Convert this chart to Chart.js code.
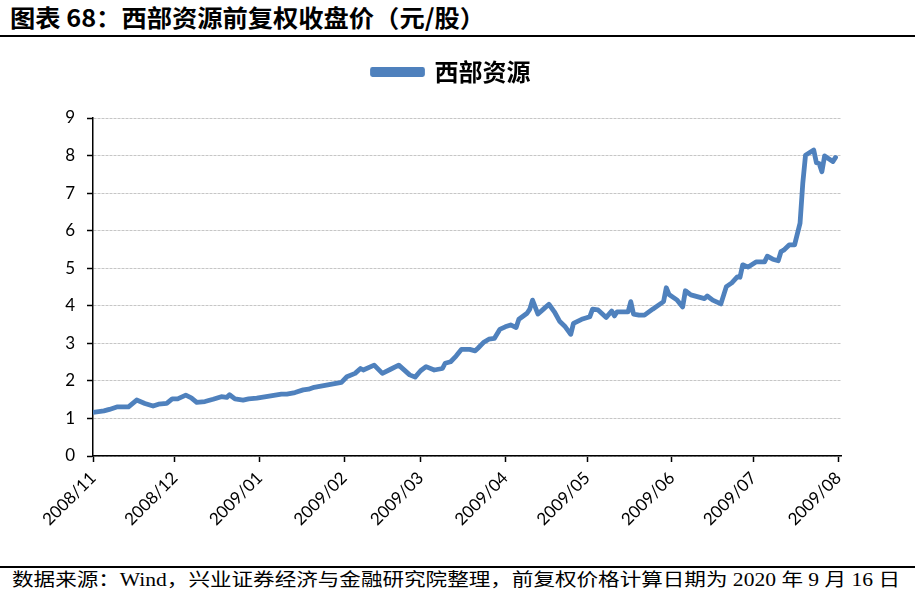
<!DOCTYPE html>
<html><head><meta charset="utf-8">
<script src="https://cdn.jsdelivr.net/npm/chart.js@4/dist/chart.umd.min.js"></script>
<style>
html,body{margin:0;padding:0;background:#fff;width:915px;height:597px;overflow:hidden;}
#title{position:absolute;left:10px;top:2px;font-family:"Noto Sans CJK SC";font-weight:bold;font-size:24px;line-height:30px;white-space:nowrap;transform-origin:0 0;color:#000;}
#tline{position:absolute;left:0;top:35px;width:915px;height:2px;background:#000;}
#wrap{position:absolute;left:0;top:40px;width:915px;height:525px;}
#fline{position:absolute;left:0;top:566px;width:915px;height:1.5px;background:#000;}
#footer{position:absolute;left:12px;top:569px;font-family:"Liberation Serif","Noto Sans CJK SC";font-size:18px;line-height:22px;white-space:nowrap;transform-origin:0 0;color:#000;}
</style></head><body>
<div id="title">图表 68：西部资源前复权收盘价（元/股）</div>
<div id="tline"></div>
<div id="wrap"><canvas id="c" width="915" height="525"></canvas></div>
<div id="fline"></div>
<div id="footer">数据来源：Wind，兴业证券经济与金融研究院整理，前复权价格计算日期为 2020 年 9 月 16 日</div>
<script>
const seriesName = '西部资源';
const monthLabels = ['2008/11','2008/12','2009/01','2009/02','2009/03','2009/04','2009/05','2009/06','2009/07','2009/08'];
const dates = [
'2008-11-01','2008-11-05','2008-11-07','2008-11-10','2008-11-14','2008-11-17','2008-11-20','2008-11-23','2008-11-25','2008-11-28',
'2008-11-30','2008-12-02','2008-12-05','2008-12-07','2008-12-09','2008-12-12','2008-12-15','2008-12-18','2008-12-20','2008-12-21',
'2008-12-23','2008-12-26','2008-12-28','2008-12-31','2009-01-04','2009-01-09','2009-01-11','2009-01-14','2009-01-17','2009-01-19',
'2009-01-21','2009-01-27','2009-01-31','2009-02-02','2009-02-05','2009-02-07','2009-02-08','2009-02-12','2009-02-15','2009-02-18',
'2009-02-21','2009-02-25','2009-02-27','2009-03-01','2009-03-03','2009-03-06','2009-03-09','2009-03-10','2009-03-12','2009-03-14',
'2009-03-16','2009-03-19','2009-03-21','2009-03-22','2009-03-24','2009-03-26','2009-03-28','2009-03-30','2009-04-01','2009-04-03',
'2009-04-05','2009-04-06','2009-04-09','2009-04-10','2009-04-11','2009-04-13','2009-04-15','2009-04-17','2009-04-19','2009-04-21',
'2009-04-23','2009-04-25','2009-04-26','2009-04-29','2009-05-02','2009-05-03','2009-05-05','2009-05-08','2009-05-10','2009-05-11',
'2009-05-12','2009-05-16','2009-05-17','2009-05-18','2009-05-20','2009-05-22','2009-05-25','2009-05-29','2009-05-30','2009-05-31',
'2009-06-03','2009-06-05','2009-06-06','2009-06-08','2009-06-11','2009-06-13','2009-06-14','2009-06-16','2009-06-19','2009-06-21',
'2009-06-23','2009-06-25','2009-06-26','2009-06-27','2009-06-29','2009-07-02','2009-07-05','2009-07-06','2009-07-08','2009-07-10',
'2009-07-11','2009-07-12','2009-07-14','2009-07-16','2009-07-18','2009-07-19','2009-07-20','2009-07-23','2009-07-24','2009-07-25',
'2009-07-26','2009-07-27','2009-07-30','2009-07-31'
];
const prices = [
1.16,1.20,1.24,1.31,1.31,1.49,1.40,1.33,1.38,1.40,
1.52,1.52,1.62,1.55,1.43,1.45,1.51,1.58,1.56,1.63,
1.52,1.49,1.52,1.54,1.59,1.65,1.65,1.69,1.76,1.78,
1.83,1.91,1.96,2.11,2.20,2.33,2.29,2.42,2.20,2.31,
2.42,2.16,2.10,2.27,2.38,2.29,2.33,2.47,2.51,2.66,
2.84,2.84,2.80,2.87,3.02,3.11,3.13,3.37,3.44,3.49,
3.42,3.64,3.80,3.91,4.15,3.78,3.91,4.04,3.84,3.58,
3.44,3.24,3.53,3.64,3.71,3.91,3.89,3.69,3.86,3.73,
3.84,3.84,4.11,3.78,3.75,3.75,3.91,4.11,4.48,4.30,
4.15,3.97,4.40,4.29,4.23,4.19,4.26,4.15,4.05,4.51,
4.61,4.77,4.76,5.09,5.03,5.17,5.17,5.32,5.24,5.20,
5.44,5.48,5.62,5.62,6.20,7.26,8.01,8.15,7.81,7.79,
7.57,7.99,7.84,7.95
];
const yTicks = [0,1,2,3,4,5,6,7,8,9];

// fit title/footer widths
function fitWidth(id, target){
  const el = document.getElementById(id);
  const w = el.getBoundingClientRect().width;
  el.style.transform = 'scaleX(' + (target / w) + ')';
}
fitWidth('title', 475);
fitWidth('footer', 888);

const startUTC = Date.UTC(2008, 10, 1);
function dayOf(s){
  const p = s.split(/[-\/]/).map(Number);
  return Math.round((Date.UTC(p[0], p[1] - 1, p[2] || 1) - startUTC) / 86400000);
}
const points = dates.map((d, i) => ({x: dayOf(d), y: prices[i]}));
const tickDays = monthLabels.map(dayOf);
const lineColor = '#4F81BD';

new Chart(document.getElementById('c'), {
  type: 'line',
  data: {datasets: [{
    label: seriesName, data: points,
    borderColor: lineColor, backgroundColor: lineColor,
    borderWidth: 4.8, pointRadius: 0, tension: 0,
    borderJoinStyle: 'round', borderCapStyle: 'round'
  }]},
  options: {
    responsive: false, animation: false, devicePixelRatio: 1,
    layout: {padding: {top: 10, left: 62, right: 74, bottom: 0}},
    plugins: {
      legend: {position: 'top', weight: 3000,
        labels: {boxWidth: 50, boxHeight: 5, padding: 10, color: '#000',
          font: {family: 'Noto Sans CJK SC', size: 24, weight: 'bold'}}},
      subtitle: {display: true, text: '', padding: {top: 14, bottom: 0}, font: {size: 10, lineHeight: 1}},
      tooltip: {enabled: false}
    },
    scales: {
      x: {
        type: 'linear', min: 0, max: 274,
        afterBuildTicks: s => { s.ticks = tickDays.map(v => ({value: v})); },
        afterFit: s => { s.height = 109; },
        ticks: {autoSkip: false, maxRotation: 45, minRotation: 45, padding: 6, color: '#000',
          font: {family: 'Lato', size: 17},
          callback: (v, i) => monthLabels[i]},
        grid: {drawOnChartArea: false, drawTicks: true, tickLength: 6, tickColor: '#000', tickWidth: 1.5},
        border: {display: true, color: '#000', width: 1.5}
      },
      y: {
        min: 0, max: 9,
        afterBuildTicks: s => { s.ticks = yTicks.map(v => ({value: v})); },
        afterFit: s => { s.width = 31; },
        ticks: {padding: 12, color: '#000', font: {family: 'Lato', size: 17}},
        grid: {color: '#c6c6c6', lineWidth: 1, tickColor: '#000', tickLength: 6, tickWidth: 1.5},
        border: {display: true, color: '#000', width: 1.5, dash: [3, 1]}
      }
    }
  }
});
</script>
</body></html>
